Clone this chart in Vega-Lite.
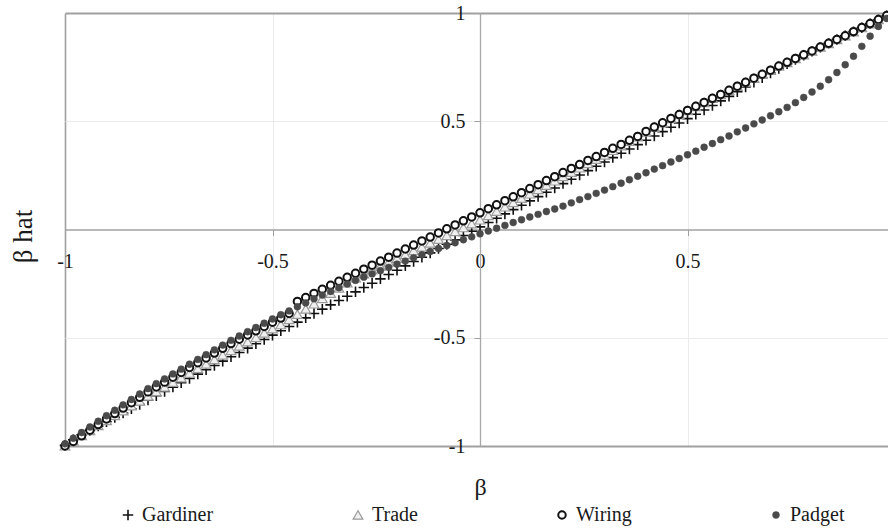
{
  "$schema": "https://vega.github.io/schema/vega-lite/v6.json",
  "width": 823,
  "height": 433,
  "autosize": {"type": "none"},
  "padding": {"left": 65, "top": 13, "right": 0, "bottom": 83},
  "background": "white",
  "config": {"view": {"stroke": null}, "font": "Liberation Serif"},
  "data": {"values": [
    {"b":-1,"Gardiner":-0.997,"Trade":-0.999,"Wiring":-1,"Padget":-0.99},
    {"b":-0.98,"Gardiner":-0.971,"Trade":-0.975,"Wiring":-0.979,"Padget":-0.964},
    {"b":-0.96,"Gardiner":-0.948,"Trade":-0.951,"Wiring":-0.953,"Padget":-0.938},
    {"b":-0.94,"Gardiner":-0.928,"Trade":-0.928,"Wiring":-0.927,"Padget":-0.912},
    {"b":-0.92,"Gardiner":-0.908,"Trade":-0.905,"Wiring":-0.901,"Padget":-0.886},
    {"b":-0.9,"Gardiner":-0.888,"Trade":-0.882,"Wiring":-0.875,"Padget":-0.86},
    {"b":-0.88,"Gardiner":-0.868,"Trade":-0.859,"Wiring":-0.85,"Padget":-0.835},
    {"b":-0.86,"Gardiner":-0.848,"Trade":-0.837,"Wiring":-0.825,"Padget":-0.81},
    {"b":-0.84,"Gardiner":-0.828,"Trade":-0.814,"Wiring":-0.8,"Padget":-0.785},
    {"b":-0.82,"Gardiner":-0.808,"Trade":-0.792,"Wiring":-0.775,"Padget":-0.76},
    {"b":-0.8,"Gardiner":-0.788,"Trade":-0.769,"Wiring":-0.75,"Padget":-0.735},
    {"b":-0.78,"Gardiner":-0.768,"Trade":-0.748,"Wiring":-0.727,"Padget":-0.712},
    {"b":-0.76,"Gardiner":-0.748,"Trade":-0.727,"Wiring":-0.705,"Padget":-0.69},
    {"b":-0.74,"Gardiner":-0.728,"Trade":-0.705,"Wiring":-0.682,"Padget":-0.667},
    {"b":-0.72,"Gardiner":-0.708,"Trade":-0.684,"Wiring":-0.66,"Padget":-0.645},
    {"b":-0.7,"Gardiner":-0.688,"Trade":-0.663,"Wiring":-0.637,"Padget":-0.622},
    {"b":-0.68,"Gardiner":-0.668,"Trade":-0.642,"Wiring":-0.615,"Padget":-0.6},
    {"b":-0.66,"Gardiner":-0.648,"Trade":-0.621,"Wiring":-0.593,"Padget":-0.578},
    {"b":-0.64,"Gardiner":-0.628,"Trade":-0.6,"Wiring":-0.571,"Padget":-0.556},
    {"b":-0.62,"Gardiner":-0.608,"Trade":-0.579,"Wiring":-0.549,"Padget":-0.534},
    {"b":-0.6,"Gardiner":-0.588,"Trade":-0.558,"Wiring":-0.527,"Padget":-0.512},
    {"b":-0.58,"Gardiner":-0.568,"Trade":-0.538,"Wiring":-0.507,"Padget":-0.492},
    {"b":-0.56,"Gardiner":-0.548,"Trade":-0.518,"Wiring":-0.487,"Padget":-0.472},
    {"b":-0.54,"Gardiner":-0.528,"Trade":-0.498,"Wiring":-0.468,"Padget":-0.453},
    {"b":-0.52,"Gardiner":-0.508,"Trade":-0.478,"Wiring":-0.448,"Padget":-0.433},
    {"b":-0.5,"Gardiner":-0.488,"Trade":-0.458,"Wiring":-0.428,"Padget":-0.413},
    {"b":-0.48,"Gardiner":-0.468,"Trade":-0.439,"Wiring":-0.409,"Padget":-0.394},
    {"b":-0.46,"Gardiner":-0.448,"Trade":-0.415,"Wiring":-0.388,"Padget":-0.376},
    {"b":-0.44,"Gardiner":-0.428,"Trade":-0.391,"Wiring":-0.332,"Padget":-0.357},
    {"b":-0.42,"Gardiner":-0.408,"Trade":-0.367,"Wiring":-0.314,"Padget":-0.339},
    {"b":-0.4,"Gardiner":-0.388,"Trade":-0.343,"Wiring":-0.295,"Padget":-0.32},
    {"b":-0.38,"Gardiner":-0.368,"Trade":-0.318,"Wiring":-0.276,"Padget":-0.303},
    {"b":-0.36,"Gardiner":-0.348,"Trade":-0.294,"Wiring":-0.258,"Padget":-0.286},
    {"b":-0.34,"Gardiner":-0.328,"Trade":-0.27,"Wiring":-0.239,"Padget":-0.269},
    {"b":-0.32,"Gardiner":-0.308,"Trade":-0.246,"Wiring":-0.221,"Padget":-0.252},
    {"b":-0.3,"Gardiner":-0.288,"Trade":-0.222,"Wiring":-0.202,"Padget":-0.235},
    {"b":-0.28,"Gardiner":-0.268,"Trade":-0.204,"Wiring":-0.183,"Padget":-0.22},
    {"b":-0.26,"Gardiner":-0.248,"Trade":-0.186,"Wiring":-0.165,"Padget":-0.205},
    {"b":-0.24,"Gardiner":-0.228,"Trade":-0.168,"Wiring":-0.146,"Padget":-0.19},
    {"b":-0.22,"Gardiner":-0.208,"Trade":-0.15,"Wiring":-0.128,"Padget":-0.175},
    {"b":-0.2,"Gardiner":-0.188,"Trade":-0.132,"Wiring":-0.109,"Padget":-0.16},
    {"b":-0.18,"Gardiner":-0.168,"Trade":-0.115,"Wiring":-0.09,"Padget":-0.146},
    {"b":-0.16,"Gardiner":-0.148,"Trade":-0.097,"Wiring":-0.072,"Padget":-0.131},
    {"b":-0.14,"Gardiner":-0.128,"Trade":-0.08,"Wiring":-0.053,"Padget":-0.117},
    {"b":-0.12,"Gardiner":-0.108,"Trade":-0.062,"Wiring":-0.035,"Padget":-0.102},
    {"b":-0.1,"Gardiner":-0.088,"Trade":-0.045,"Wiring":-0.016,"Padget":-0.088},
    {"b":-0.08,"Gardiner":-0.068,"Trade":-0.027,"Wiring":0.003,"Padget":-0.074},
    {"b":-0.06,"Gardiner":-0.048,"Trade":-0.009,"Wiring":0.021,"Padget":-0.061},
    {"b":-0.04,"Gardiner":-0.028,"Trade":0.009,"Wiring":0.04,"Padget":-0.047},
    {"b":-0.02,"Gardiner":-0.008,"Trade":0.027,"Wiring":0.058,"Padget":-0.034},
    {"b":0,"Gardiner":0.012,"Trade":0.045,"Wiring":0.077,"Padget":-0.02},
    {"b":0.02,"Gardiner":0.032,"Trade":0.065,"Wiring":0.096,"Padget":-0.007},
    {"b":0.04,"Gardiner":0.052,"Trade":0.085,"Wiring":0.114,"Padget":0.006},
    {"b":0.06,"Gardiner":0.072,"Trade":0.105,"Wiring":0.133,"Padget":0.019},
    {"b":0.08,"Gardiner":0.092,"Trade":0.125,"Wiring":0.151,"Padget":0.032},
    {"b":0.1,"Gardiner":0.112,"Trade":0.145,"Wiring":0.17,"Padget":0.045},
    {"b":0.12,"Gardiner":0.132,"Trade":0.165,"Wiring":0.189,"Padget":0.058},
    {"b":0.14,"Gardiner":0.152,"Trade":0.185,"Wiring":0.207,"Padget":0.07},
    {"b":0.16,"Gardiner":0.172,"Trade":0.205,"Wiring":0.226,"Padget":0.083},
    {"b":0.18,"Gardiner":0.192,"Trade":0.225,"Wiring":0.244,"Padget":0.095},
    {"b":0.2,"Gardiner":0.212,"Trade":0.245,"Wiring":0.263,"Padget":0.108},
    {"b":0.22,"Gardiner":0.232,"Trade":0.265,"Wiring":0.282,"Padget":0.123},
    {"b":0.24,"Gardiner":0.252,"Trade":0.285,"Wiring":0.3,"Padget":0.138},
    {"b":0.26,"Gardiner":0.272,"Trade":0.305,"Wiring":0.319,"Padget":0.152},
    {"b":0.28,"Gardiner":0.292,"Trade":0.325,"Wiring":0.337,"Padget":0.167},
    {"b":0.3,"Gardiner":0.312,"Trade":0.345,"Wiring":0.356,"Padget":0.182},
    {"b":0.32,"Gardiner":0.332,"Trade":0.366,"Wiring":0.375,"Padget":0.198},
    {"b":0.34,"Gardiner":0.352,"Trade":0.387,"Wiring":0.393,"Padget":0.214},
    {"b":0.36,"Gardiner":0.372,"Trade":0.408,"Wiring":0.412,"Padget":0.23},
    {"b":0.38,"Gardiner":0.392,"Trade":0.429,"Wiring":0.43,"Padget":0.246},
    {"b":0.4,"Gardiner":0.412,"Trade":0.451,"Wiring":0.453,"Padget":0.262},
    {"b":0.42,"Gardiner":0.432,"Trade":0.473,"Wiring":0.473,"Padget":0.279},
    {"b":0.44,"Gardiner":0.452,"Trade":0.493,"Wiring":0.493,"Padget":0.295},
    {"b":0.46,"Gardiner":0.472,"Trade":0.513,"Wiring":0.513,"Padget":0.312},
    {"b":0.48,"Gardiner":0.492,"Trade":0.531,"Wiring":0.531,"Padget":0.328},
    {"b":0.5,"Gardiner":0.512,"Trade":0.55,"Wiring":0.55,"Padget":0.345},
    {"b":0.52,"Gardiner":0.532,"Trade":0.569,"Wiring":0.569,"Padget":0.362},
    {"b":0.54,"Gardiner":0.552,"Trade":0.587,"Wiring":0.587,"Padget":0.38},
    {"b":0.56,"Gardiner":0.573,"Trade":0.606,"Wiring":0.606,"Padget":0.397},
    {"b":0.58,"Gardiner":0.594,"Trade":0.624,"Wiring":0.624,"Padget":0.415},
    {"b":0.6,"Gardiner":0.615,"Trade":0.643,"Wiring":0.643,"Padget":0.432},
    {"b":0.62,"Gardiner":0.636,"Trade":0.662,"Wiring":0.662,"Padget":0.451},
    {"b":0.64,"Gardiner":0.658,"Trade":0.68,"Wiring":0.68,"Padget":0.469},
    {"b":0.66,"Gardiner":0.68,"Trade":0.699,"Wiring":0.699,"Padget":0.488},
    {"b":0.68,"Gardiner":0.701,"Trade":0.717,"Wiring":0.717,"Padget":0.506},
    {"b":0.7,"Gardiner":0.723,"Trade":0.736,"Wiring":0.736,"Padget":0.525},
    {"b":0.72,"Gardiner":0.744,"Trade":0.755,"Wiring":0.755,"Padget":0.544},
    {"b":0.74,"Gardiner":0.765,"Trade":0.772,"Wiring":0.772,"Padget":0.564},
    {"b":0.76,"Gardiner":0.785,"Trade":0.79,"Wiring":0.79,"Padget":0.586},
    {"b":0.78,"Gardiner":0.805,"Trade":0.807,"Wiring":0.807,"Padget":0.61},
    {"b":0.8,"Gardiner":0.823,"Trade":0.825,"Wiring":0.825,"Padget":0.635},
    {"b":0.82,"Gardiner":0.842,"Trade":0.843,"Wiring":0.843,"Padget":0.662},
    {"b":0.84,"Gardiner":0.86,"Trade":0.86,"Wiring":0.86,"Padget":0.692},
    {"b":0.86,"Gardiner":0.878,"Trade":0.878,"Wiring":0.878,"Padget":0.725},
    {"b":0.88,"Gardiner":0.895,"Trade":0.895,"Wiring":0.895,"Padget":0.761},
    {"b":0.9,"Gardiner":0.914,"Trade":0.914,"Wiring":0.914,"Padget":0.8},
    {"b":0.92,"Gardiner":0.932,"Trade":0.933,"Wiring":0.933,"Padget":0.846},
    {"b":0.94,"Gardiner":0.95,"Trade":0.951,"Wiring":0.951,"Padget":0.893},
    {"b":0.96,"Gardiner":0.969,"Trade":0.97,"Wiring":0.97,"Padget":0.938},
    {"b":0.98,"Gardiner":0.987,"Trade":0.988,"Wiring":0.988,"Padget":0.975}
  ]},
  "transform": [{"fold": ["Gardiner", "Trade", "Wiring", "Padget"], "as": ["s", "v"]}],
  "encoding": {
    "x": {
      "field": "b", "type": "quantitative",
      "scale": {"domain": [-1, 0.9831], "nice": false, "zero": false},
      "axis": {
        "values": [-1, -0.5, 0, 0.5],
        "offset": -216.5,
        "labelExpr": "'' + datum.value",
        "labelFlush": false, "labelOverlap": false,
        "labelFont": "Liberation Serif", "labelFontSize": 20, "labelColor": "#1a1a1a", "labelPadding": 16,
        "tickColor": "#a0a0a0", "tickSize": 6, "tickWidth": 1,
        "domainColor": "#a0a0a0", "domainWidth": 1.5,
        "grid": true,
        "gridColor": {"condition": {"test": "datum.value === -1", "value": "#a0a0a0"}, "value": "#ebebeb"},
        "gridWidth": {"condition": {"test": "datum.value === -1", "value": 1.6}, "value": 1},
        "title": "β", "titleFont": "Liberation Serif", "titleFontSize": 24, "titleFontWeight": "normal", "titleColor": "#1a1a1a",
        "titleX": 415, "titleY": 258, "titleAlign": "center", "titleBaseline": "middle"
      }
    },
    "y": {
      "field": "v", "type": "quantitative",
      "scale": {"domain": [-1, 1], "nice": false, "zero": false},
      "axis": {
        "values": [-1, -0.5, 0.5, 1],
        "offset": -415,
        "labelExpr": "'' + datum.value",
        "labelFont": "Liberation Serif", "labelFontSize": 20, "labelColor": "#1a1a1a", "labelPadding": 9,
        "tickColor": "#a0a0a0", "tickSize": 6, "tickWidth": 1,
        "domainColor": "#a8a8a8", "domainWidth": 1.3,
        "grid": true,
        "gridColor": {"condition": {"test": "abs(datum.value) === 1", "value": "#a0a0a0"}, "value": "#ebebeb"},
        "gridWidth": {"condition": {"test": "abs(datum.value) === 1", "value": 1.8}, "value": 1},
        "title": "β hat", "titleFont": "Liberation Serif", "titleFontSize": 27, "titleFontWeight": "normal", "titleColor": "#1a1a1a",
        "titleX": -457, "titleY": 223, "titleAngle": 270, "titleAlign": "center", "titleBaseline": "middle"
      }
    },
    "shape": {
      "field": "s", "type": "nominal",
      "scale": {"domain": ["Gardiner", "Trade", "Wiring", "Padget"], "range": ["M-1,0H1M0,-1V1", "triangle-up", "circle", "circle"]},
      "legend": {
        "title": null, "orient": "none", "legendX": 53, "legendY": 492,
        "direction": "horizontal", "columns": 4, "columnPadding": 134, "padding": 0,
        "labelFont": "Liberation Serif", "labelFontSize": 20, "labelColor": "#1a1a1a", "labelOffset": 4
      }
    },
    "fill": {
      "field": "s", "type": "nominal",
      "scale": {"domain": ["Gardiner", "Trade", "Wiring", "Padget"], "range": ["transparent", "#f0f0f0", "#ffffff", "#4a4a4a"]}
    },
    "stroke": {
      "field": "s", "type": "nominal",
      "scale": {"domain": ["Gardiner", "Trade", "Wiring", "Padget"], "range": ["#111111", "#9a9a9a", "#111111", "#4a4a4a"]}
    },
    "size": {
      "field": "s", "type": "nominal",
      "scale": {"type": "ordinal", "domain": ["Gardiner", "Trade", "Wiring", "Padget"], "range": [110, 95, 56, 48]}
    },
    "strokeWidth": {
      "field": "s", "type": "nominal",
      "scale": {"type": "ordinal", "domain": ["Gardiner", "Trade", "Wiring", "Padget"], "range": [1.6, 1.2, 2, 0.5]}
    }
  },
  "layer": [
    {"transform": [{"filter": {"field": "s", "equal": "Gardiner"}}], "mark": {"type": "point", "opacity": 1}},
    {"transform": [{"filter": {"field": "s", "equal": "Trade"}}], "mark": {"type": "point", "opacity": 1}},
    {"transform": [{"filter": {"field": "s", "equal": "Wiring"}}], "mark": {"type": "point", "opacity": 1}},
    {"transform": [{"filter": {"field": "s", "equal": "Padget"}}], "mark": {"type": "point", "opacity": 1}}
  ]
}
